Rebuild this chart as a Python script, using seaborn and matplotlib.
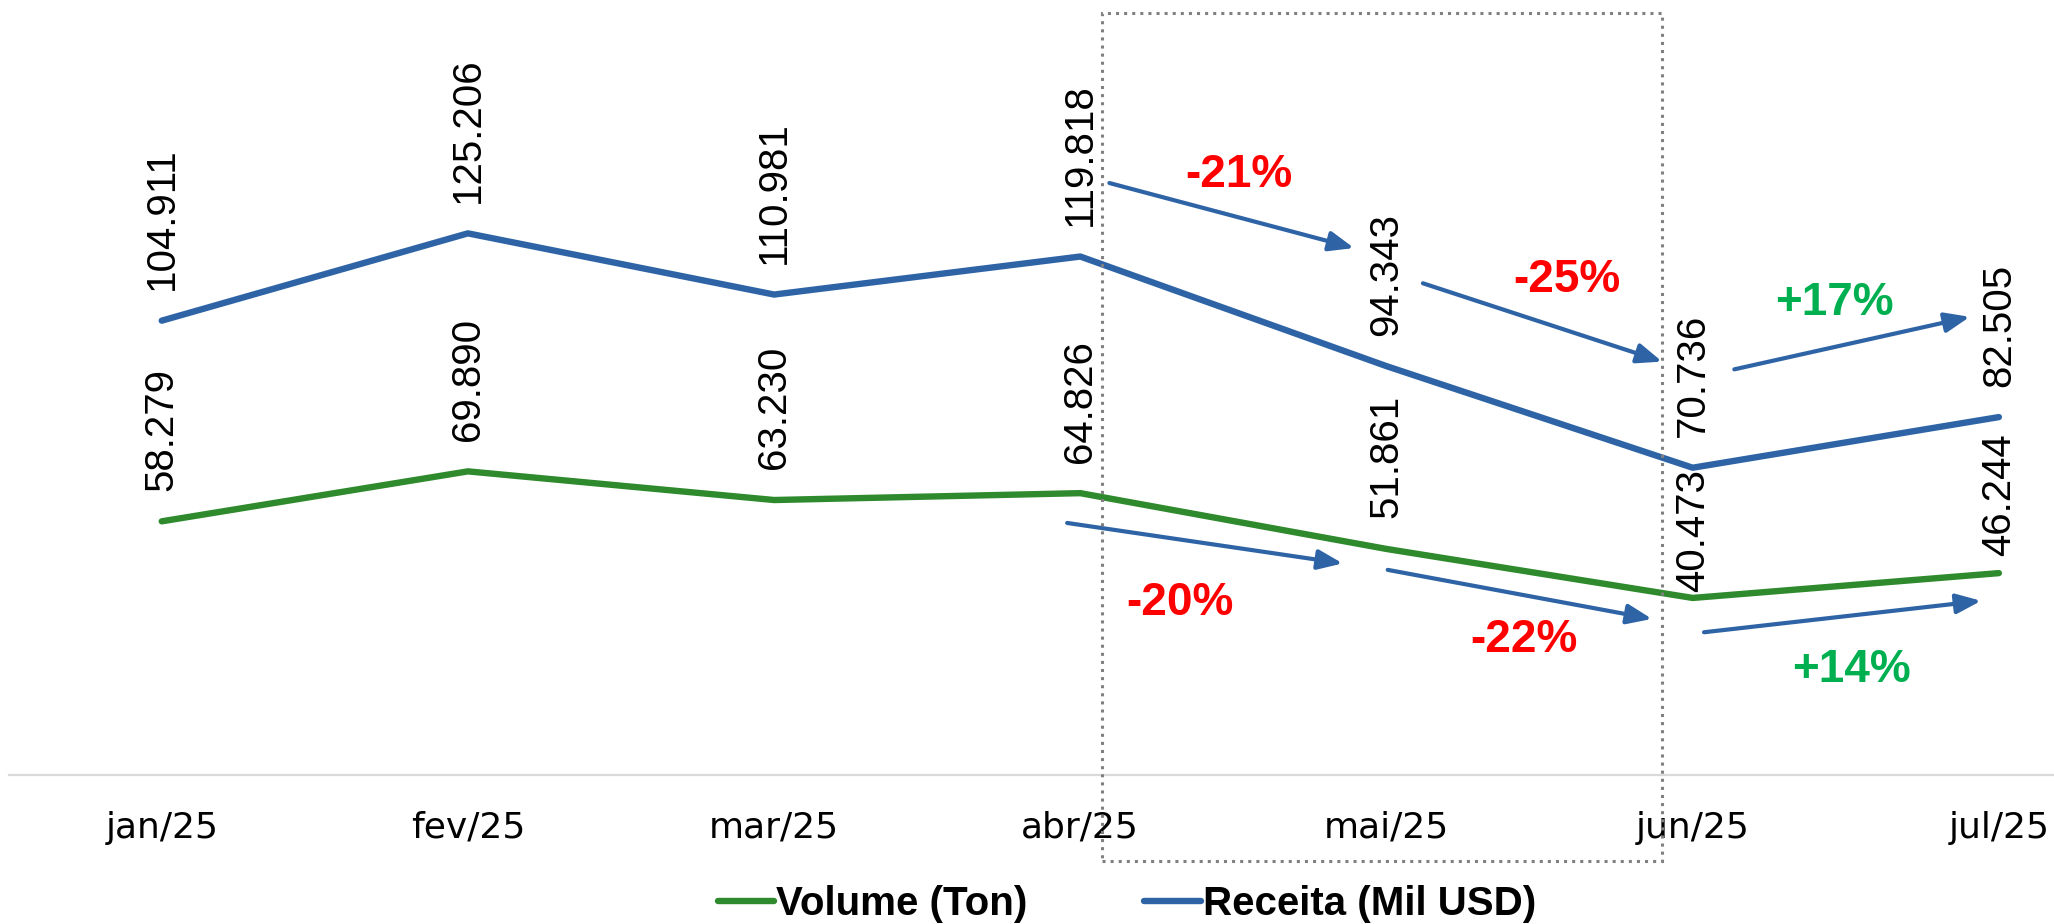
import numpy as np
import pandas as pd
import matplotlib
matplotlib.use("Agg")
import matplotlib.pyplot as plt
from matplotlib.patches import Rectangle
from matplotlib.lines import Line2D
import seaborn as sns

# Monthly data
months = ["jan/25", "fev/25", "mar/25", "abr/25", "mai/25", "jun/25", "jul/25"]
volume_ton = [58.279, 69.890, 63.230, 64.826, 51.861, 40.473, 46.244]
receita_mil_usd = [104.911, 125.206, 110.981, 119.818, 94.343, 70.736, 82.505]

series_names = ["Volume (Ton)", "Receita (Mil USD)"]

BLUE = "#2E64A6"
GREEN = "#2E8A2C"
RED_TXT = "#FF0000"
GREEN_TXT = "#00B050"

sns.set_theme(style="white")
plt.rcParams["font.family"] = ["Liberation Sans", "DejaVu Sans"]
plt.rcParams["text.color"] = "black"

df = pd.DataFrame({
    "pos": list(range(len(months))) * 2,
    "valor": volume_ton + receita_mil_usd,
    "serie": [series_names[0]] * len(months) + [series_names[1]] * len(months),
})

fig = plt.figure(figsize=(20.54, 9.24), dpi=100)
ax = fig.add_axes([0.0042, 0.1616, 1.0435, 0.8387])

sns.lineplot(data=df, x="pos", y="valor", hue="serie", sort=False,
             palette={series_names[0]: GREEN, series_names[1]: BLUE},
             linewidth=4.6, ax=ax, legend=False)
for ln in ax.get_lines():
    ln.set_solid_capstyle("round")
    ln.set_solid_joinstyle("round")

ax.set_xlim(-0.5, len(months) - 0.5)
ax.set_ylim(-0.6, 179.5)

# Value labels above each point, rotated
green_gaps = [22, 22, 22, 22, 22, 4, 12]
for i, v in enumerate(receita_mil_usd):
    ax.annotate(f"{v:.3f}", (i, v), xytext=(0, 22), textcoords="offset points",
                rotation=90, ha="center", va="bottom", fontsize=29, color="black")
for i, v in enumerate(volume_ton):
    ax.annotate(f"{v:.3f}", (i, v), xytext=(0, green_gaps[i]), textcoords="offset points",
                rotation=90, ha="center", va="bottom", fontsize=29, color="black")

# Month-over-month change arrows (abr -> jul)
def pct(a, b):
    p = round((b / a - 1) * 100)
    return f"{p:+d}%"

receita_arrows = [((3.095, 136.9), (3.894, 121.8), (3.517, 138.7)),
                  ((4.119, 113.6), (4.900, 95.4), (4.588, 114.4)),
                  ((5.136, 93.6), (5.905, 105.8), (5.464, 109.1))]
volume_arrows = [((2.957, 57.9), (3.857, 48.5), (3.326, 39.2)),
                 ((4.004, 47.0), (4.867, 35.6), (4.449, 30.6)),
                 ((5.037, 32.5), (5.942, 39.8), (5.520, 23.7))]

for values, arrows in ((receita_mil_usd, receita_arrows), (volume_ton, volume_arrows)):
    for k, (start, end, txt) in enumerate(arrows):
        i = 3 + k
        ax.annotate("", xy=end, xytext=start,
                    arrowprops=dict(arrowstyle="-|>,head_length=1.5,head_width=0.6",
                                    mutation_scale=10, lw=3, color=BLUE,
                                    shrinkA=0, shrinkB=0))
        label = pct(values[i], values[i + 1])
        ax.text(txt[0], txt[1], label, ha="center", va="center", fontsize=33,
                fontweight="bold", color=GREEN_TXT if label.startswith("+") else RED_TXT)

# Highlight box over abr-jun
ax.add_patch(Rectangle((3.071, -20.6), 1.829, 197.1, fill=False, ls=":", lw=2.2,
                       ec="#808080", clip_on=False, zorder=5))

# Axes styling
for side in ("left", "right", "top"):
    ax.spines[side].set_visible(False)
ax.spines["bottom"].set_color("#D9D9D9")
ax.spines["bottom"].set_linewidth(1.6)
ax.set_yticks([])
ax.set_xticks(range(len(months)))
ax.set_xticklabels(months, fontsize=26, family=["DejaVu Sans"], color="black")
ax.tick_params(axis="x", length=0, pad=26)
ax.set_xlabel("")
ax.set_ylabel("")

handles = [Line2D([0], [0], color=GREEN, lw=4.6, solid_capstyle="round"),
           Line2D([0], [0], color=BLUE, lw=4.6, solid_capstyle="round")]
leg = fig.legend(handles, series_names, loc="center", bbox_to_anchor=(1127 / 2054, 1 - 904 / 924),
                 ncol=2, frameon=False, handlelength=1.4, handletextpad=0.05, columnspacing=2.9,
                 prop={"weight": "bold", "size": 29})
for t in leg.get_texts():
    t.set_color("black")

fig.savefig("out.png", dpi=100)
